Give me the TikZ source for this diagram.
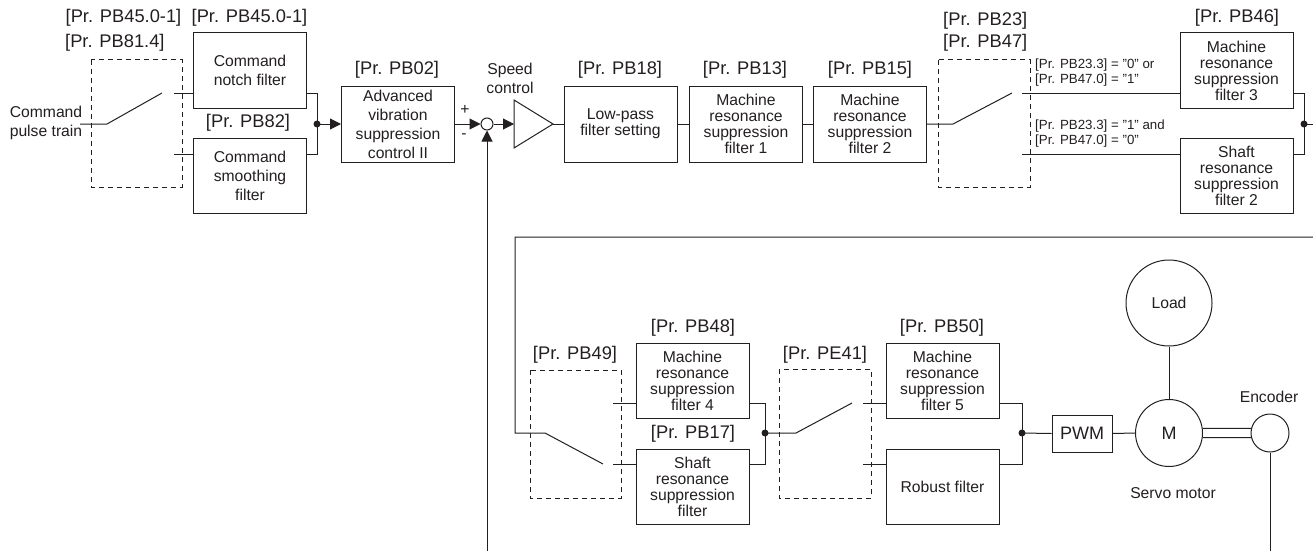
\documentclass[tikz,border=0pt]{standalone}
\usepackage{fontspec}
\setmainfont{Liberation Sans}
\usetikzlibrary{arrows.meta,calc}
\definecolor{ink}{RGB}{35,31,32}
\begin{document}
\begin{tikzpicture}[x=1pt,y=-1pt,
  every node/.style={text=ink, inner sep=0pt},
  lbl/.style={font=\fontsize{18.3}{20}\selectfont},
  txt/.style={font=\fontsize{15.7}{16}\selectfont, align=center},
  txtw/.style={font=\fontsize{15.7}{19}\selectfont, align=center},
  cond/.style={font=\fontsize{13.3}{15}\selectfont, align=left, anchor=west},
  blk/.style={draw=ink, line width=1pt, minimum width=113pt, minimum height=75pt, align=center},
  dbox/.style={draw=ink, line width=1pt, dash pattern=on 5pt off 4pt},
  wire/.style={draw=ink, line width=1pt},
  arr/.style={wire, -{Triangle[length=11pt,width=11pt]}},
  dot/.style={circle, fill=ink, minimum size=7pt, inner sep=0pt},
  ring/.style={circle, draw=ink, line width=1pt, inner sep=0pt},
]
\useasboundingbox (0,0) rectangle (1313,551);

% ---------- upper row: blocks ----------
\node[blk,txtw] (notch) at (250,70.5) {Command\\notch filter};
\node[blk,txtw] (smooth) at (250,176) {Command\\smoothing\\filter};
\node[blk,txtw,minimum height=76pt] (avsc) at (398,124) {Advanced\\vibration\\suppression\\control II};
\node[blk,txt,minimum height=76pt] (lpf) at (620.5,124) {Low-pass\\filter setting};
\node[blk,txt,minimum height=76pt] (mrf1) at (746,124) {Machine\\resonance\\suppression\\filter 1};
\node[blk,txt,minimum height=76pt] (mrf2) at (870,124) {Machine\\resonance\\suppression\\filter 2};
\node[blk,txt] (mrf3) at (1236.5,70.5) {Machine\\resonance\\suppression\\filter 3};
\node[blk,txt] (srf2) at (1236.5,176) {Shaft\\resonance\\suppression\\filter 2};

% ---------- lower row: blocks ----------
\node[blk,txt] (mrf4) at (692.5,380.5) {Machine\\resonance\\suppression\\filter 4};
\node[blk,txt] (srf) at (692.5,486.5) {Shaft\\resonance\\suppression\\filter};
\node[blk,txt] (mrf5) at (942.5,380.5) {Machine\\resonance\\suppression\\filter 5};
\node[blk,txt] (robust) at (942.5,486.5) {Robust filter};
\node[draw=ink, line width=1pt, minimum width=60pt, minimum height=37pt, font=\fontsize{18}{20}\selectfont] (pwm) at (1082,433.5) {PWM};
\node[ring, minimum size=67pt, font=\fontsize{18}{20}\selectfont] (motor) at (1169,433) {M};
\node[ring, minimum size=86pt, txt] (load) at (1169,303) {Load};
\node[ring, minimum size=38pt] (enc) at (1270,433) {};
\node[ring, minimum size=12pt] (sum) at (487,124) {};

% ---------- dashed switch boxes ----------
\draw[dbox] (91,60) rectangle (182,187);
\draw[dbox] (938,60) rectangle (1030,187);
\draw[dbox] (530,370) rectangle (621,498);
\draw[dbox] (779,369) rectangle (871,498);

% ---------- labels ----------
\node[lbl] (l1) at (123.5,18) {[Pr. PB45.0-1]};
\node[lbl] (l2) at (249.5,18) {[Pr. PB45.0-1]};
\node[lbl,anchor=west] (l3) at (65,43) {[Pr. PB81.4]};
\node[lbl] (l4) at (248,123) {[Pr. PB82]};
\node[lbl] (l5) at (397,70) {[Pr. PB02]};
\node[txt] (l6) at (510,78) {Speed\\[3pt]control};
\node[lbl] (l7) at (620,70) {[Pr. PB18]};
\node[lbl] (l8) at (745,70) {[Pr. PB13]};
\node[lbl] (l9) at (870,70) {[Pr. PB15]};
\node[lbl,anchor=west] (l10) at (943,21) {[Pr. PB23]};
\node[lbl,anchor=west] (l11) at (943,43) {[Pr. PB47]};
\node[lbl] (l12) at (1237,18) {[Pr. PB46]};
\node[cond] (c1) at (1035,72.5) {[Pr. PB23.3] = "0" or\\{}[Pr. PB47.0] = "1"};
\node[cond] (c2) at (1035,133.5) {[Pr. PB23.3] = "1" and\\{}[Pr. PB47.0] = "0"};
\node[txtw] (cmd) at (46,122.5) {Command\\pulse train};
\node[txt] (plus) at (465,110) {+};
\node[txt] (minus) at (464,136) {-};
\node[lbl] (l13) at (575,355) {[Pr. PB49]};
\node[lbl] (l14) at (693,328) {[Pr. PB48]};
\node[lbl] (l15) at (693,434) {[Pr. PB17]};
\node[lbl] (l16) at (825,355) {[Pr. PE41]};
\node[lbl] (l17) at (942,328) {[Pr. PB50]};
\node[txt] (l18) at (1269,397) {Encoder};
\node[txt] (l19) at (1173,493) {Servo motor};

% ---------- switch 1 ----------
\coordinate (in1) at (80,124);
\coordinate (p1) at (107,124);
\coordinate (b1) at (162,93);
\coordinate (u1) at (174,93);
\coordinate (w1) at (174,154);
\coordinate (j1) at (317,124);
\draw[wire] (in1) -- (p1) -- (b1);
\draw[wire] (u1) -- (u1 -| notch.west);
\draw[wire] (w1) -- (w1 -| smooth.west);
\draw[wire] (u1 -| notch.east) -- (u1 -| j1) -- (w1 -| j1) -- (w1 -| smooth.east);
\node[dot] (j1d) at (j1) {};
\draw[arr] (j1) -- (avsc.west);

% ---------- speed control ----------
\coordinate (ampin) at (514,124);
\coordinate (ampA) at (514,100);
\coordinate (ampB) at (514,148);
\coordinate (ampout) at (553,124);
\draw[arr] (avsc.east) -- (sum.west);
\draw[arr] (sum.east) -- (ampin);
\draw[wire, line join=miter] (ampA) -- (ampout) -- (ampB) -- cycle;
\draw[wire] (ampout) -- (lpf.west);
\draw[wire] (lpf.east) -- (mrf1.west);
\draw[wire] (mrf1.east) -- (mrf2.west);

% ---------- switch 2 ----------
\coordinate (p2) at (953,124);
\coordinate (b2) at (1012,93);
\coordinate (u2) at (1022,93);
\coordinate (w2) at (1022,154);
\coordinate (j2) at (1304,124);
\coordinate (o2) at (1313,124);
\draw[wire] (mrf2.east) -- (p2) -- (b2);
\draw[wire] (u2) -- (u2 -| mrf3.west);
\draw[wire] (w2) -- (w2 -| srf2.west);
\draw[wire] (u2 -| mrf3.east) -- (u2 -| j2) -- (w2 -| j2) -- (w2 -| srf2.east);
\node[dot] (j2d) at (j2) {};
\draw[wire] (j2) -- (o2);

% ---------- loop and switch 3 ----------
\coordinate (r1) at (1313,237);
\coordinate (r2) at (515,237);
\coordinate (r3) at (515,433);
\coordinate (p3) at (545,433);
\coordinate (b3) at (603,464);
\coordinate (u3) at (613,403);
\coordinate (w3) at (613,464);
\coordinate (j3) at (765,433);
\draw[wire] (r1) -- (r2) -- (r3) -- (p3) -- (b3);
\draw[wire] (u3) -- (u3 -| mrf4.west);
\draw[wire] (w3) -- (w3 -| srf.west);
\draw[wire] (u3 -| mrf4.east) -- (u3 -| j3) -- (w3 -| j3) -- (w3 -| srf.east);
\node[dot] (j3d) at (j3) {};

% ---------- switch 4 ----------
\coordinate (p4) at (796,433);
\coordinate (b4) at (852,403);
\coordinate (u4) at (863,403);
\coordinate (w4) at (863,464);
\coordinate (j4) at (1022,433);
\draw[wire] (j3) -- (p4) -- (b4);
\draw[wire] (u4) -- (u4 -| mrf5.west);
\draw[wire] (w4) -- (w4 -| robust.west);
\draw[wire] (u4 -| mrf5.east) -- (u4 -| j4) -- (w4 -| j4) -- (w4 -| robust.east);
\node[dot] (j4d) at (j4) {};
\draw[wire] (j4) -- (pwm.west);

% ---------- motor ----------
\draw[wire] (pwm.east) -- (motor.west);
\draw[wire] (motor.north) -- (load.south);
\draw[wire] (motor.8) -- (enc.166);
\draw[wire] (motor.352) -- (enc.194);
\coordinate (fb2) at (1270,551);
\draw[wire] (enc.south) -- (fb2);
\coordinate (fb1) at (487,551);
\draw[arr] (fb1) -- (sum.south);
\end{tikzpicture}
\end{document}
